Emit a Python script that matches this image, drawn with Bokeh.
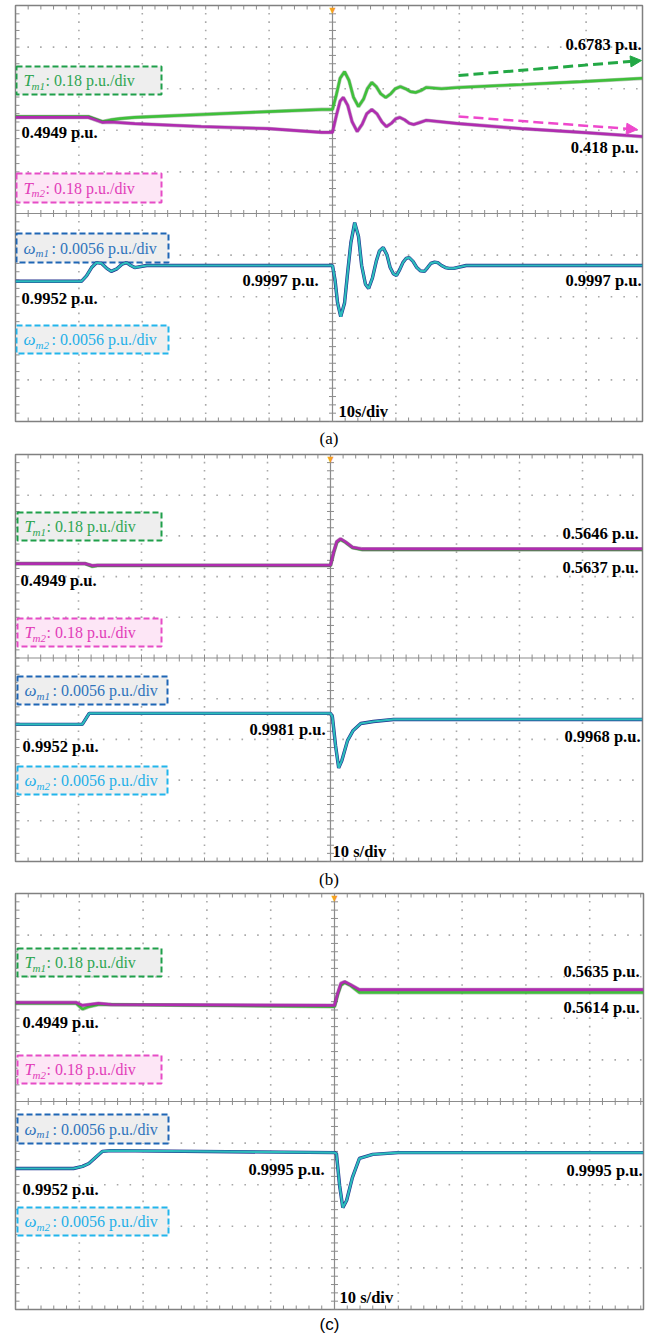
from bokeh.plotting import figure
from bokeh.layouts import column
from bokeh.models import Label, Arrow, NormalHead, LinearAxis, FixedTicker
from bokeh.core.properties import value
from bokeh.embed import file_html
from bokeh.resources import INLINE

# ---------------- data: time in s (10 s/div, trigger at 0), value in screen divisions ----------------
# Panel (a)
a_tm1_t = [-50, -38.5, -37.4, -36.3, -35.0, -33.5, -31.2, -20.7, -10.1, -1.7, 0.0, 0.6, 1.2, 1.9, 2.6, 3.3, 4.1,
           4.9, 5.5, 6.2, 6.9, 7.6, 8.4, 9.2, 9.9, 10.7, 11.5, 12.3, 13.1, 14.0, 14.8, 17.2, 19.9, 29.8, 39.3, 48.9]
a_tm1_v = [2.33, 2.33, 2.27, 2.21, 2.25, 2.28, 2.31, 2.38, 2.45, 2.50, 2.50, 2.85, 3.25, 3.41, 3.20, 2.80, 2.57,
           2.75, 3.00, 3.15, 3.05, 2.88, 2.79, 2.88, 3.00, 3.05, 3.00, 2.93, 2.91, 2.96, 3.03, 3.00, 3.03, 3.10, 3.17, 3.25]
a_tm2_t = [-50, -38.5, -37.4, -36.3, -35.0, -31.2, -20.7, -10.1, -1.7, 0.0, 0.6, 1.2, 1.7, 2.4, 3.1, 3.9, 4.7,
           5.4, 6.2, 7.0, 7.8, 8.5, 9.3, 10.0, 10.6, 11.4, 12.1, 12.8, 13.8, 14.8, 19.9, 29.8, 39.3, 48.9]
a_tm2_v = [2.31, 2.31, 2.25, 2.19, 2.20, 2.16, 2.09, 2.04, 1.95, 1.95, 2.35, 2.70, 2.79, 2.60, 2.20, 1.97, 2.15,
           2.40, 2.50, 2.40, 2.20, 2.09, 2.17, 2.28, 2.31, 2.25, 2.17, 2.14, 2.19, 2.24, 2.16, 2.04, 1.95, 1.85]
a_w_t = [-50, -39.6, -38.8, -38.0, -37.2, -36.4, -35.6, -34.9, -34.0, -33.2, -32.5, -31.8, -31.2, -29.3, 0.0,
         0.4, 0.8, 1.3, 1.9, 2.4, 2.9, 3.5, 4.1, 4.6, 5.2, 5.7, 6.3, 6.9, 7.4, 8.0, 8.6, 9.1, 9.6, 10.1, 10.6,
         11.1, 11.6, 12.1, 12.7, 13.3, 13.9, 14.5, 15.0, 15.5, 16.1, 16.6, 17.2, 17.8, 18.4, 19.1, 21.1, 48.9]
a_w_v = [-1.63, -1.63, -1.50, -1.30, -1.18, -1.20, -1.32, -1.39, -1.33, -1.22, -1.18, -1.25, -1.30, -1.25, -1.25,
         -1.60, -2.15, -2.48, -2.15, -1.40, -0.70, -0.22, -0.55, -1.25, -1.70, -1.80, -1.55, -1.15, -0.90, -0.82,
         -1.00, -1.30, -1.45, -1.49, -1.35, -1.18, -1.08, -1.06, -1.15, -1.30, -1.38, -1.39, -1.30, -1.20, -1.17,
         -1.18, -1.25, -1.30, -1.32, -1.32, -1.25, -1.25]

# Panel (b)
b_tm_t = [-50, -39.0, -37.8, -37.0, 0.0, 0.5, 1.0, 1.6, 2.4, 3.5, 5.0, 49.5]
b_tm1_v = [2.32, 2.32, 2.25, 2.27, 2.27, 2.59, 2.84, 2.91, 2.84, 2.71, 2.66, 2.66]
b_tm2_v = [2.32, 2.32, 2.27, 2.28, 2.28, 2.60, 2.86, 2.93, 2.85, 2.72, 2.68, 2.68]
b_w_t = [-50, -39.4, -38.3, -37.0, 0.0, 0.3, 0.8, 1.3, 1.8, 2.7, 3.6, 4.8, 6.8, 10.0, 49.5]
b_w_v = [-1.63, -1.63, -1.36, -1.36, -1.36, -1.44, -2.15, -2.70, -2.52, -2.03, -1.78, -1.61, -1.56, -1.51, -1.51]

# Panel (c)
c_tm_t = [-50, -40.5, -39.5, -38.5, -37.0, -35.0, 0.0, 0.5, 1.0, 1.6, 2.5, 3.9, 6.0, 48.4]
c_tm1_v = [2.36, 2.36, 2.22, 2.28, 2.33, 2.33, 2.28, 2.57, 2.79, 2.86, 2.79, 2.62, 2.62, 2.62]
c_tm2_v = [2.38, 2.38, 2.31, 2.33, 2.36, 2.33, 2.31, 2.60, 2.84, 2.88, 2.81, 2.69, 2.69, 2.69]
c_w_t = [-50, -40.9, -39.5, -38.5, -37.5, -36.4, -35.0, 0.0, 0.3, 0.8, 1.3, 1.9, 2.8, 3.9, 6.0, 10.0, 48.4]
c_w_v = [-1.61, -1.61, -1.56, -1.49, -1.35, -1.20, -1.18, -1.23, -1.25, -2.02, -2.55, -2.38, -1.83, -1.37,
         -1.27, -1.23, -1.23]

# scale labels
tm_scale = ": 0.18 p.u./div"
w_scale = ": 0.0056 p.u./div"
a_texts = ["0.4949 p.u.", "0.6783 p.u.", "0.418 p.u.", "0.9952 p.u.", "0.9997 p.u.", "0.9997 p.u.", "10s/div"]
b_texts = ["0.4949 p.u.", "0.5646 p.u.", "0.5637 p.u.", "0.9952 p.u.", "0.9981 p.u.", "0.9968 p.u.", "10 s/div"]
c_texts = ["0.4949 p.u.", "0.5635 p.u.", "0.5614 p.u.", "0.9952 p.u.", "0.9995 p.u.", "0.9995 p.u.", "10 s/div"]

# ---------------- styling / layout (pixels) ----------------
SERIF = "Liberation Serif"
GRID = "#a8a8a8"
AXC = "#8c8c8c"
GREEN, GREEN_D = "#3fc03a", "#2c5a2c"
MAG, MAG_D = "#b02db0", "#5a1a5c"
NAVY, CYAN = "#22308e", "#2cbcbc"

STYLE = {
    "tm1": dict(sym="T", sub="m1", rest=tm_scale, color="#2ea653", border="#1f9f4a", fill="#eeeeee", sdx=8, rdx=22),
    "tm2": dict(sym="T", sub="m2", rest=tm_scale, color="#e23db9", border="#e64cc6", fill="#fde6f6", sdx=8, rdx=22),
    "wm1": dict(sym="ω", sub="m1", rest=w_scale, color="#2f74bc", border="#1f66b5", fill="#eeeeee", sdx=12, rdx=28),
    "wm2": dict(sym="ω", sub="m2", rest=w_scale, color="#1fb0e8", border="#22b5ec", fill="#efefef", sdx=12, rdx=28),
}

PANELS = [
    dict(tag="(a)", tag_font=SERIF, tag_standoff=7, btop=5, bbot=29, top=5, bottom=421, left=14, center=331, right=641,
         green=(a_tm1_t, a_tm1_v), mag=(a_tm2_t, a_tm2_v), w=(a_w_t, a_w_v),
         boxes=[("tm1", 14, 160, 66, 94), ("tm2", 14, 160, 173, 202), ("wm1", 14, 167, 233, 262), ("wm2", 14, 167, 325, 353)],
         texts=a_texts,
         tpos=[("left", 20, 132), ("right", 640, 44), ("right", 637, 147), ("left", 20, 298), ("right", 317, 280),
               ("right", 640, 280), ("left", 337, 411)],
         arrows=[("#23a845", 457, 75, 640, 60, 3), ("#ee48cc", 457, 116, 636, 129, 2.5)]),
    dict(tag="(b)", tag_font=SERIF, tag_standoff=8, btop=4, bbot=30, top=454, bottom=861, left=15, center=330, right=642,
         green=(b_tm_t, b_tm1_v), mag=(b_tm_t, b_tm2_v), w=(b_w_t, b_w_v),
         boxes=[("tm1", 16, 161, 512, 540), ("tm2", 16, 161, 618, 646), ("wm1", 16, 167, 676, 704), ("wm2", 16, 167, 766, 794)],
         texts=b_texts,
         tpos=[("left", 20, 580), ("right", 638, 533), ("right", 638, 567), ("left", 22, 746), ("right", 325, 729),
               ("right", 640, 736), ("left", 332, 851)],
         arrows=[]),
    dict(tag="(c)", tag_font="Liberation Sans", tag_standoff=5, btop=2, bbot=32, top=893, bottom=1309, left=13, center=332, right=641,
         green=(c_tm_t, c_tm1_v), mag=(c_tm_t, c_tm2_v), w=(c_w_t, c_w_v),
         boxes=[("tm1", 14, 159, 948, 976), ("tm2", 14, 159, 1055, 1083), ("wm1", 14, 166, 1114, 1143), ("wm2", 14, 166, 1207, 1235)],
         texts=c_texts,
         tpos=[("left", 20, 1022), ("right", 637, 971), ("right", 637, 1007), ("left", 20, 1189), ("right", 322, 1169),
               ("right", 640, 1170), ("left", 337, 1297)],
         arrows=[]),
]


def make_panel(g):
    pxs = (g["center"] - g["left"]) / 50.0
    ppd = (g["bottom"] - g["top"]) / 10.0
    midpx = (g["top"] + g["bottom"]) / 2.0
    X = lambda px: (px - g["center"]) / pxs
    Y = lambda py: (midpx - py) / ppd
    xmax = X(g["right"])

    p = figure(frame_width=g["right"] - g["left"], frame_height=g["bottom"] - g["top"],
               x_range=(-50, xmax), y_range=(-5, 5), x_axis_type=None, y_axis_type=None,
               toolbar_location=None, output_backend="svg",
               min_border_left=g["left"], min_border_right=656 - g["right"],
               min_border_top=g["btop"], min_border_bottom=g["bbot"])
    p.outline_line_color = "#808080"
    p.outline_line_width = 1.5
    p.background_fill_color = "white"
    p.border_fill_color = "white"
    p.xgrid.visible = False
    p.ygrid.visible = False

    # panel tag as a tick-less bottom axis label
    tag_axis = LinearAxis(ticker=FixedTicker(ticks=[]), axis_label=g["tag"], axis_line_color=None,
                          major_tick_in=0, major_tick_out=0, minor_tick_in=0, minor_tick_out=0,
                          major_label_standoff=0, axis_label_standoff=g["tag_standoff"],
                          axis_label_text_font=g["tag_font"], axis_label_text_font_style="normal",
                          axis_label_text_font_size="17px", axis_label_text_color="black")
    p.add_layout(tag_axis, "below")

    # dotted graticule
    minor_y = [k * 0.2 for k in range(-24, 25) if k != 0]
    minor_x = [k * 2.0 for k in range(-24, 25) if k != 0 and k * 2.0 < xmax]
    gx, gy = [], []
    for vx in [-40, -30, -20, -10, 10, 20, 30, 40]:
        if vx < xmax:
            gx += [vx] * len(minor_y); gy += minor_y
    for hy in [-4, -3, -2, -1, 1, 2, 3, 4]:
        gx += minor_x; gy += [hy] * len(minor_x)
    p.scatter(gx, gy, marker="square", size=1.6, fill_color=GRID, line_color=None)

    # centre cross with ticks
    p.segment([0, -50], [-5, 0], [0, xmax], [5, 0], line_color=AXC, line_width=1.2)
    all_y = [k * 0.2 for k in range(-25, 26)]
    all_x = [k * 2.0 for k in range(-25, 25) if k * 2.0 < xmax]
    tl = 3.5
    p.segment([-tl / pxs] * len(all_y), all_y, [tl / pxs] * len(all_y), all_y, line_color=AXC, line_width=1)
    p.segment(all_x, [-tl / ppd] * len(all_x), all_x, [tl / ppd] * len(all_x), line_color=AXC, line_width=1)
    # border ticks (left, top, bottom)
    bl = 4
    p.segment([-50] * len(all_y), all_y, [-50 + bl / pxs] * len(all_y), all_y, line_color=AXC, line_width=1)
    p.segment(all_x, [5] * len(all_x), all_x, [5 - bl / ppd] * len(all_x), line_color=AXC, line_width=1)
    p.segment(all_x, [-5] * len(all_x), all_x, [-5 + bl / ppd] * len(all_x), line_color=AXC, line_width=1)

    # legend boxes
    for kind, l, r, t, b in g["boxes"]:
        s = STYLE[kind]
        p.quad(left=[X(l + 1)], right=[X(r)], top=[Y(t)], bottom=[Y(b)], fill_color=s["fill"],
               line_color=s["border"], line_width=2, line_dash="6 3")

    # traces
    gt, gv = g["green"]
    mt, mv = g["mag"]
    wt, wv = g["w"]
    p.line(gt, gv, line_color=GREEN_D, line_width=3.8, line_alpha=0.35)
    p.line(gt, gv, line_color=GREEN, line_width=2.6)
    p.line(mt, mv, line_color=MAG_D, line_width=3.8, line_alpha=0.35)
    p.line(mt, mv, line_color=MAG, line_width=2.6)
    p.line(wt, wv, line_color=NAVY, line_width=3.4)
    p.line(wt, wv, line_color=CYAN, line_width=2.2)

    # legend box texts
    for kind, l, r, t, b in g["boxes"]:
        s = STYLE[kind]
        x0 = l + 8
        yc = (t + b) / 2.0
        common = dict(text_font=value(SERIF), text_color=s["color"], text_baseline="middle", text_align="left")
        p.text(x=[X(x0)], y=[Y(yc)], text=[s["sym"]], text_font_size="17px", text_font_style="italic", **common)
        p.text(x=[X(x0 + s["sdx"])], y=[Y(yc + 5)], text=[s["sub"]], text_font_size="11px", text_font_style="italic", **common)
        p.text(x=[X(x0 + s["rdx"])], y=[Y(yc)], text=[s["rest"]], text_font_size="16px", **common)

    # value annotations
    for txt, (al, px, py) in zip(g["texts"], g["tpos"]):
        p.text(x=[X(px)], y=[Y(py)], text=[txt], text_align=al, text_baseline="middle",
               text_font=value(SERIF), text_font_size="16.5px", text_font_style="bold", text_color="black")

    # arrows
    for col, x0, y0, x1, y1, w in g["arrows"]:
        p.add_layout(Arrow(x_start=X(x0), y_start=Y(y0), x_end=X(x1), y_end=Y(y1), line_color=col,
                           line_width=w, line_dash="10 5",
                           end=NormalHead(size=11, fill_color=col, line_color=col, line_width=1)))

    # trigger marker at top centre
    p.add_layout(Label(x=0, y=5, text="▼", text_align="center", text_baseline="top",
                       text_font="DejaVu Sans", text_font_size="8px", text_color="#f5a020"))
    return p


figs = [make_panel(g) for g in PANELS]
layout = column(*figs, spacing=0)
open("out.html", "w").write(file_html(layout, INLINE))
